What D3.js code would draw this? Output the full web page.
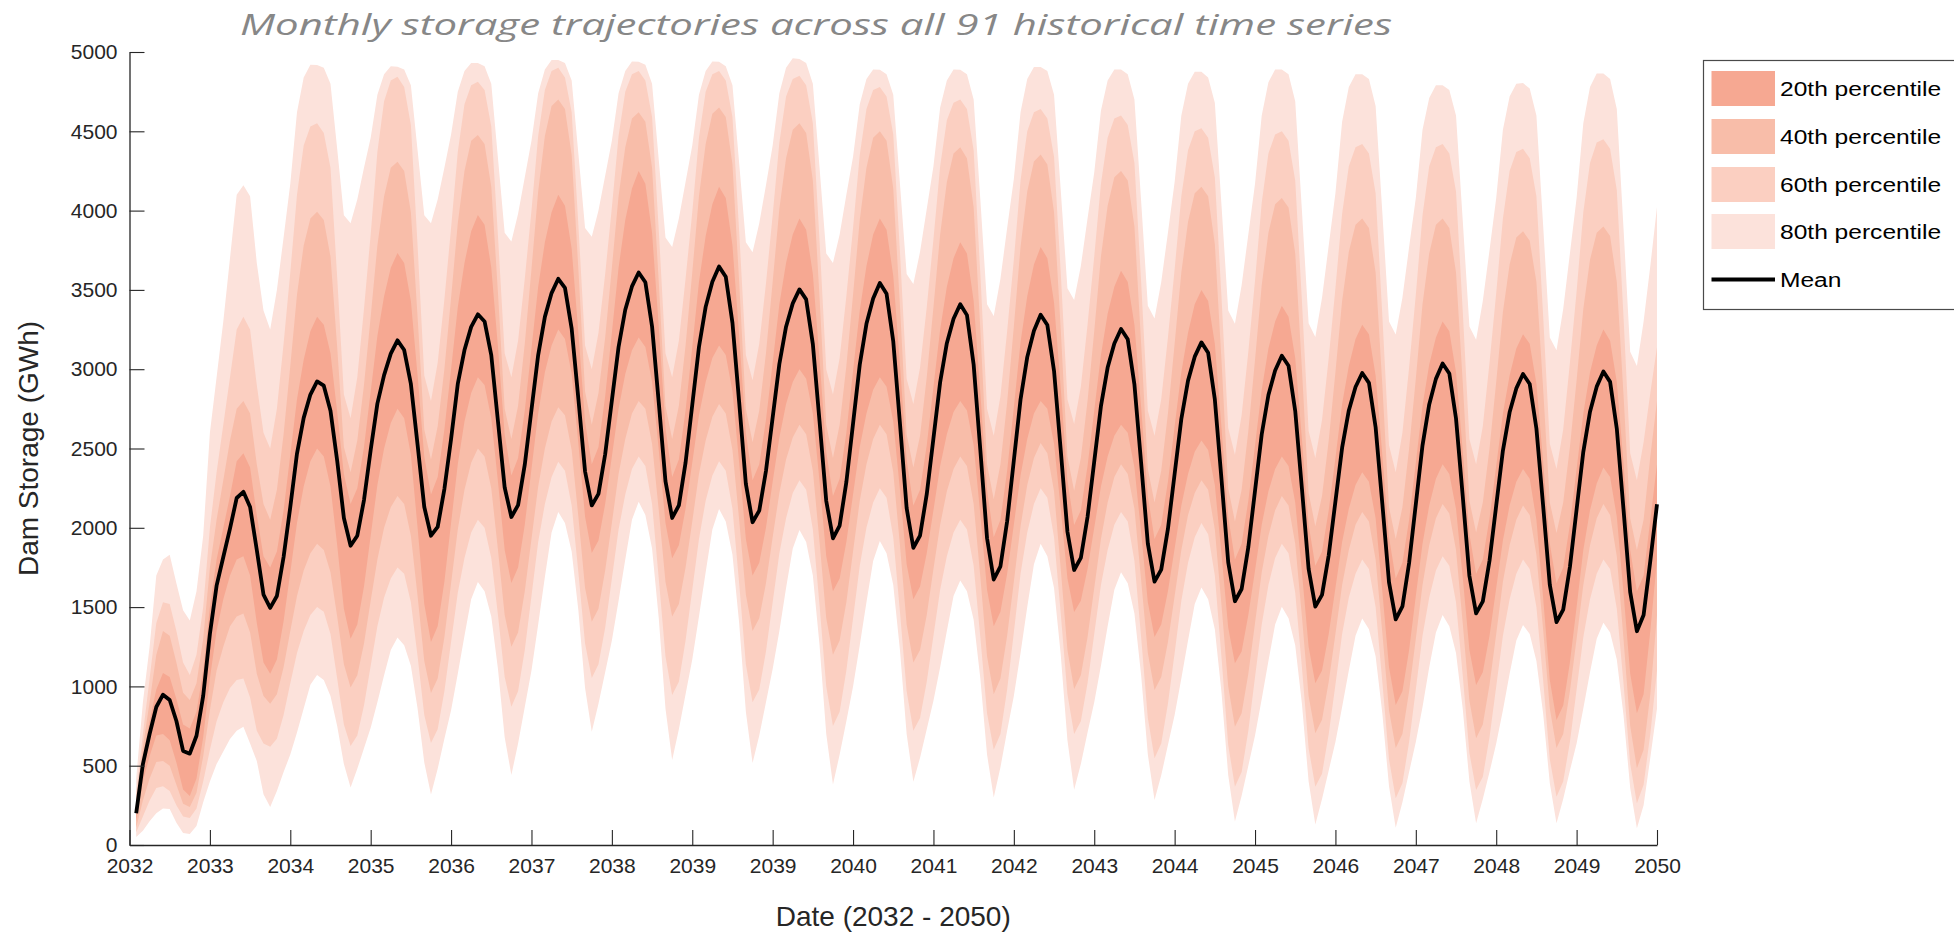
<!DOCTYPE html>
<html>
<head>
<meta charset="utf-8">
<script src="https://cdn.jsdelivr.net/npm/d3@7/dist/d3.min.js"></script>
<style>
  html, body { margin: 0; padding: 0; background: #ffffff; }
  svg { display: block; }
</style>
</head>
<body>
<svg id="chart" width="1954" height="933"></svg>
<script>
// ---- Data: monthly dam storage (GWh), month 1 .. 228 ----
const months = d3.range(1, 229);

const meanStorage = [
  200, 510, 700, 870, 948, 914, 782, 593, 576, 689, 940, 1330, 1635, 1816, 1995, 2188, 2227, 2131, 1860, 1579, 1495,
  1570, 1816, 2131, 2468, 2693, 2840, 2923, 2896, 2738, 2423, 2062, 1887,
  1950, 2175, 2490, 2783, 2963, 3098, 3182, 3121, 2907, 2524, 2131, 1950,
  2006, 2244, 2560, 2907, 3121, 3267, 3346, 3301, 3089, 2671, 2254, 2068,
  2143, 2398, 2744, 3089, 3330, 3480, 3570, 3513, 3256, 2813, 2355, 2141,
  2214, 2464, 2802, 3140, 3375, 3522, 3610, 3548, 3269, 2790, 2294, 2062,
  2141, 2411, 2775, 3140, 3393, 3552, 3647, 3583, 3292, 2793, 2277, 2035,
  2108, 2358, 2696, 3033, 3268, 3415, 3503, 3440, 3158, 2671, 2169, 1934,
  2014, 2288, 2658, 3028, 3286, 3446, 3543, 3476, 3176, 2658, 2124, 1874,
  1951, 2212, 2565, 2918, 3164, 3318, 3410, 3341, 3028, 2490, 1934, 1674,
  1757, 2041, 2425, 2809, 3076, 3243, 3343, 3279, 2989, 2490, 1975, 1734,
  1810, 2068, 2418, 2767, 3010, 3162, 3253, 3189, 2903, 2409, 1900, 1661,
  1736, 1993, 2340, 2686, 2928, 3079, 3169, 3104, 2810, 2304, 1782, 1537,
  1614, 1878, 2234, 2590, 2837, 2992, 3085, 3022, 2737, 2247, 1740, 1503,
  1577, 1827, 2166, 2505, 2740, 2888, 2976, 2914, 2634, 2153, 1656, 1423,
  1504, 1778, 2149, 2520, 2778, 2939, 3036, 2973, 2689, 2201, 1696, 1460,
  1536, 1792, 2140, 2487, 2728, 2879, 2970, 2907, 2626, 2141, 1640, 1405,
  1484, 1753, 2116, 2479, 2732, 2890, 2985, 2920, 2625, 2117, 1594, 1348,
  1450, 1790, 2148
];

// Band edges (upper / lower) for each percentile band
const band80Upper = [
  420, 900, 1250, 1700, 1800, 1830, 1650, 1480, 1415, 1600, 1950, 2600, 2950, 3300, 3700, 4100, 4160, 4090, 3670, 3370, 3250,
  3500, 3830, 4170, 4620, 4840, 4920, 4918, 4900, 4800, 4390, 3970, 3920,
  4070, 4270, 4460, 4730, 4860, 4910, 4907, 4890, 4790, 4380, 3970, 3920,
  4070, 4270, 4480, 4750, 4880, 4930, 4930, 4910, 4800, 4330, 3860, 3805,
  3980, 4210, 4440, 4740, 4890, 4950, 4950, 4930, 4820, 4360, 3890, 3835,
  4000, 4220, 4440, 4740, 4880, 4940, 4938, 4920, 4800, 4320, 3830, 3770,
  3950, 4180, 4410, 4730, 4880, 4940, 4938, 4910, 4790, 4300, 3800, 3737,
  3920, 4160, 4410, 4740, 4900, 4960, 4956, 4930, 4800, 4270, 3730, 3670,
  3850, 4100, 4340, 4670, 4830, 4890, 4888, 4860, 4730, 4170, 3600, 3537,
  3740, 4010, 4280, 4650, 4820, 4890, 4888, 4860, 4700, 4070, 3410, 3336,
  3570, 3890, 4200, 4620, 4830, 4905, 4905, 4880, 4730, 4130, 3510, 3436,
  3650, 3950, 4240, 4630, 4820, 4890, 4890, 4860, 4700, 4060, 3400, 3320,
  3550, 3860, 4180, 4600, 4800, 4875, 4875, 4840, 4680, 4030, 3370, 3286,
  3530, 3850, 4170, 4600, 4810, 4890, 4890, 4860, 4690, 4000, 3290, 3203,
  3450, 3780, 4110, 4560, 4780, 4860, 4860, 4830, 4660, 3990, 3300, 3219,
  3450, 3770, 4080, 4510, 4710, 4790, 4790, 4760, 4600, 3940, 3270, 3186,
  3430, 3750, 4080, 4510, 4720, 4800, 4804, 4770, 4600, 3910, 3200, 3119,
  3380, 3730, 4080, 4550, 4780, 4865, 4865, 4830, 4640, 3890, 3110, 3020,
  3300, 3650, 4022
];
const band80Lower = [
  50, 90, 150, 200, 230, 227, 140, 75, 70, 120, 270, 400, 510, 590, 668, 720, 745, 640, 530, 320, 240,
  340, 460, 570, 710, 860, 1010, 1072, 1040, 940, 750, 510, 363,
  480, 610, 740, 900, 1070, 1230, 1308, 1260, 1130, 860, 520, 318,
  480, 670, 850, 1080, 1320, 1550, 1658, 1600, 1440, 1110, 680, 441,
  640, 870, 1100, 1390, 1690, 1970, 2100, 2030, 1850, 1480, 990, 714,
  890, 1090, 1290, 1540, 1800, 2050, 2165, 2080, 1870, 1430, 860, 536,
  730, 950, 1170, 1440, 1720, 1990, 2118, 2040, 1830, 1400, 840, 517,
  690, 900, 1110, 1350, 1620, 1870, 1986, 1910, 1700, 1260, 700, 382,
  570, 780, 1000, 1260, 1530, 1790, 1917, 1840, 1640, 1230, 700, 399,
  550, 730, 910, 1120, 1350, 1570, 1667, 1600, 1420, 1050, 570, 299,
  490, 720, 940, 1210, 1500, 1770, 1900, 1820, 1620, 1200, 660, 349,
  510, 710, 900, 1130, 1380, 1610, 1720, 1650, 1460, 1070, 570, 283,
  440, 630, 820, 1050, 1290, 1520, 1623, 1550, 1360, 960, 440, 148,
  310, 500, 690, 920, 1160, 1390, 1502, 1430, 1260, 890, 400, 130,
  290, 470, 650, 870, 1100, 1320, 1428, 1360, 1190, 830, 370, 109,
  270, 460, 650, 870, 1120, 1340, 1450, 1380, 1210, 860, 400, 137,
  290, 460, 640, 850, 1080, 1290, 1387, 1330, 1160, 830, 390, 137,
  290, 470, 640, 860, 1090, 1300, 1402, 1340, 1170, 820, 360, 105,
  250, 550, 860
];
const band60Upper = [
  330, 700, 1050, 1400, 1530, 1520, 1350, 1150, 1072, 1200, 1500, 2000, 2350, 2650, 2950, 3250, 3330, 3250, 2900, 2600, 2500,
  2750, 3160, 3610, 4100, 4410, 4530, 4550, 4490, 4270, 3580, 2840, 2690,
  2950, 3380, 3850, 4370, 4690, 4820, 4844, 4780, 4540, 3780, 2960, 2800,
  3040, 3440, 3890, 4370, 4670, 4790, 4812, 4760, 4530, 3840, 3100, 2950,
  3180, 3570, 4000, 4470, 4760, 4880, 4900, 4840, 4620, 3910, 3150, 3000,
  3230, 3600, 4020, 4470, 4750, 4860, 4880, 4820, 4590, 3880, 3100, 2950,
  3180, 3570, 3990, 4460, 4750, 4860, 4880, 4820, 4590, 3870, 3090, 2930,
  3160, 3540, 3970, 4430, 4720, 4830, 4850, 4790, 4550, 3810, 3000, 2840,
  3070, 3460, 3890, 4350, 4640, 4760, 4780, 4720, 4480, 3740, 2940, 2780,
  3010, 3390, 3820, 4280, 4570, 4680, 4700, 4640, 4380, 3600, 2750, 2580,
  2830, 3240, 3690, 4190, 4500, 4620, 4640, 4580, 4340, 3610, 2810, 2654,
  2890, 3280, 3710, 4170, 4460, 4580, 4600, 4540, 4300, 3550, 2740, 2580,
  2810, 3200, 3630, 4090, 4380, 4500, 4520, 4460, 4210, 3450, 2630, 2460,
  2710, 3110, 3560, 4050, 4360, 4480, 4500, 4440, 4190, 3430, 2610, 2440,
  2680, 3070, 3510, 3980, 4280, 4400, 4420, 4360, 4110, 3340, 2520, 2350,
  2600, 3010, 3470, 3970, 4280, 4400, 4420, 4360, 4120, 3370, 2560, 2400,
  2640, 3040, 3480, 3950, 4250, 4370, 4390, 4330, 4090, 3340, 2530, 2371,
  2620, 3040, 3490, 3990, 4300, 4430, 4450, 4390, 4130, 3330, 2470, 2300,
  2540, 2850, 3140
];
const band60Lower = [
  80, 180, 280, 360, 370, 340, 250, 180, 170, 230, 400, 600, 780, 900, 990, 1040, 1050, 930, 720, 640, 620,
  670, 820, 1020, 1210, 1350, 1450, 1500, 1470, 1330, 1050, 760, 624,
  690, 880, 1130, 1380, 1560, 1680, 1750, 1710, 1530, 1190, 820, 643,
  730, 970, 1280, 1590, 1810, 1970, 2050, 2000, 1810, 1450, 1060, 872,
  970, 1230, 1570, 1910, 2150, 2320, 2417, 2360, 2140, 1720, 1270, 1053,
  1140, 1370, 1680, 1990, 2210, 2370, 2450, 2390, 2150, 1680, 1190, 946,
  1030, 1290, 1610, 1930, 2170, 2330, 2420, 2360, 2120, 1650, 1140, 900,
  980, 1220, 1530, 1840, 2060, 2220, 2300, 2240, 1990, 1510, 1000, 750,
  840, 1100, 1430, 1760, 2000, 2160, 2250, 2190, 1940, 1470, 970, 720,
  800, 1030, 1320, 1610, 1820, 1970, 2050, 1990, 1760, 1310, 830, 600,
  700, 980, 1340, 1710, 1970, 2150, 2250, 2190, 1940, 1460, 950, 700,
  780, 1020, 1330, 1640, 1860, 2020, 2100, 2040, 1790, 1310, 800, 547,
  640, 890, 1210, 1540, 1780, 1940, 2030, 1960, 1700, 1180, 630, 368,
  460, 720, 1060, 1390, 1640, 1810, 1900, 1840, 1590, 1120, 610, 368,
  450, 700, 1010, 1330, 1560, 1710, 1800, 1740, 1500, 1030, 540, 294,
  390, 650, 980, 1320, 1560, 1730, 1820, 1760, 1530, 1070, 580, 347,
  430, 680, 1000, 1320, 1550, 1710, 1800, 1740, 1500, 1040, 540, 305,
  400, 650, 980, 1310, 1550, 1710, 1800, 1740, 1490, 1020, 510, 263,
  380, 700, 1100
];
const band40Upper = [
  290, 620, 900, 1200, 1350, 1320, 1150, 960, 914, 1020, 1300, 1750, 2050, 2300, 2550, 2750, 2800, 2720, 2400, 2150, 2050,
  2240, 2590, 3020, 3470, 3780, 3950, 3993, 3940, 3710, 3140, 2510, 2350,
  2550, 2900, 3330, 3780, 4090, 4270, 4308, 4250, 3990, 3330, 2620, 2430,
  2640, 3000, 3450, 3920, 4250, 4440, 4477, 4420, 4150, 3480, 2750, 2560,
  2770, 3160, 3630, 4120, 4470, 4660, 4700, 4640, 4350, 3630, 2860, 2650,
  2850, 3200, 3640, 4090, 4400, 4580, 4620, 4560, 4270, 3550, 2770, 2560,
  2770, 3150, 3610, 4090, 4420, 4610, 4650, 4590, 4290, 3550, 2750, 2540,
  2740, 3100, 3550, 4010, 4330, 4510, 4550, 4490, 4190, 3450, 2650, 2440,
  2650, 3020, 3470, 3940, 4270, 4460, 4500, 4440, 4140, 3400, 2590, 2380,
  2580, 2950, 3390, 3850, 4180, 4360, 4400, 4330, 4020, 3250, 2400, 2180,
  2400, 2790, 3270, 3770, 4120, 4310, 4354, 4290, 3990, 3250, 2450, 2234,
  2440, 2800, 3240, 3710, 4030, 4210, 4250, 4190, 3900, 3160, 2370, 2160,
  2360, 2720, 3160, 3610, 3930, 4110, 4150, 4090, 3790, 3050, 2250, 2040,
  2240, 2610, 3060, 3530, 3860, 4040, 4080, 4020, 3730, 3000, 2220, 2010,
  2200, 2550, 2980, 3430, 3740, 3910, 3950, 3890, 3610, 2900, 2130, 1930,
  2130, 2500, 2940, 3410, 3730, 3910, 3950, 3890, 3610, 2920, 2170, 1970,
  2160, 2500, 2920, 3360, 3660, 3830, 3870, 3810, 3550, 2880, 2160, 1967,
  2160, 2510, 2930, 3380, 3690, 3860, 3900, 3840, 3550, 2840, 2060, 1860,
  2050, 2450, 2800
];
const band40Lower = [
  110, 280, 420, 523, 530, 500, 380, 260, 240, 330, 560, 850, 1100, 1250, 1380, 1440, 1460, 1340, 1080, 940, 890,
  950, 1120, 1350, 1570, 1730, 1840, 1900, 1860, 1720, 1440, 1140, 993,
  1070, 1270, 1540, 1800, 2000, 2130, 2200, 2150, 1950, 1570, 1160, 958,
  1050, 1310, 1650, 1990, 2240, 2410, 2500, 2450, 2250, 1860, 1450, 1250,
  1340, 1600, 1930, 2260, 2500, 2670, 2760, 2710, 2490, 2070, 1620, 1408,
  1490, 1730, 2030, 2340, 2560, 2720, 2800, 2750, 2530, 2110, 1660, 1440,
  1520, 1750, 2040, 2340, 2550, 2700, 2780, 2720, 2490, 2050, 1580, 1350,
  1430, 1650, 1940, 2220, 2430, 2570, 2650, 2590, 2360, 1910, 1430, 1200,
  1290, 1530, 1850, 2170, 2400, 2560, 2650, 2590, 2350, 1890, 1390, 1150,
  1230, 1450, 1740, 2020, 2230, 2370, 2450, 2390, 2150, 1690, 1190, 950,
  1050, 1320, 1660, 2010, 2270, 2440, 2535, 2470, 2230, 1740, 1230, 983,
  1070, 1310, 1620, 1930, 2160, 2320, 2400, 2340, 2120, 1670, 1210, 977,
  1060, 1280, 1570, 1860, 2080, 2220, 2300, 2240, 1990, 1510, 1000, 746,
  830, 1080, 1400, 1720, 1950, 2110, 2200, 2140, 1900, 1440, 940, 705,
  790, 1030, 1330, 1640, 1860, 2020, 2100, 2040, 1800, 1340, 850, 611,
  700, 970, 1300, 1640, 1890, 2060, 2150, 2090, 1860, 1400, 910, 673,
  760, 1010, 1330, 1660, 1890, 2050, 2140, 2080, 1830, 1360, 860, 611,
  700, 970, 1300, 1640, 1890, 2060, 2150, 2080, 1820, 1300, 750, 484,
  600, 950, 1450
];
const band20Upper = [
  250, 560, 780, 980, 1084, 1060, 920, 760, 734, 840, 1100, 1500, 1800, 2000, 2200, 2420, 2470, 2380, 2080, 1820, 1750,
  1850, 2110, 2460, 2810, 3060, 3240, 3331, 3280, 3100, 2730, 2340, 2150,
  2250, 2510, 2860, 3210, 3460, 3640, 3732, 3670, 3430, 2960, 2450, 2210,
  2320, 2620, 3000, 3390, 3670, 3870, 3972, 3910, 3640, 3140, 2590, 2330,
  2440, 2740, 3130, 3520, 3800, 3990, 4100, 4030, 3760, 3230, 2670, 2400,
  2510, 2830, 3230, 3640, 3940, 4140, 4250, 4170, 3860, 3270, 2630, 2320,
  2430, 2740, 3140, 3550, 3840, 4040, 4150, 4080, 3780, 3210, 2600, 2300,
  2400, 2680, 3040, 3410, 3670, 3850, 3950, 3880, 3600, 3060, 2480, 2200,
  2310, 2600, 2990, 3370, 3650, 3850, 3950, 3880, 3590, 3030, 2430, 2140,
  2240, 2520, 2890, 3250, 3520, 3700, 3800, 3730, 3430, 2850, 2240, 1940,
  2050, 2360, 2760, 3170, 3460, 3660, 3770, 3700, 3420, 2880, 2300, 2017,
  2110, 2390, 2740, 3090, 3350, 3520, 3620, 3550, 3280, 2760, 2200, 1930,
  2020, 2290, 2640, 2980, 3230, 3410, 3500, 3430, 3160, 2630, 2070, 1800,
  1900, 2170, 2520, 2870, 3130, 3300, 3400, 3330, 3070, 2560, 2020, 1760,
  1850, 2110, 2440, 2780, 3020, 3190, 3280, 3220, 2960, 2460, 1940, 1680,
  1780, 2050, 2410, 2770, 3030, 3200, 3300, 3240, 2980, 2490, 1960, 1710,
  1800, 2060, 2390, 2720, 2960, 3130, 3220, 3160, 2910, 2420, 1900, 1650,
  1750, 2020, 2370, 2720, 2980, 3150, 3250, 3180, 2920, 2410, 1860, 1600,
  1700, 2050, 2400
];
const band20Lower = [
  150, 400, 560, 690, 700, 660, 520, 350, 309, 420, 680, 1050, 1350, 1550, 1700, 1800, 1820, 1700, 1400, 1150, 1080,
  1170, 1410, 1720, 2030, 2260, 2420, 2500, 2450, 2260, 1890, 1490, 1300,
  1390, 1630, 1950, 2270, 2500, 2660, 2750, 2690, 2460, 2000, 1520, 1280,
  1380, 1660, 2030, 2400, 2670, 2850, 2950, 2900, 2690, 2290, 1860, 1652,
  1750, 2020, 2370, 2720, 2980, 3150, 3250, 3190, 2970, 2530, 2070, 1841,
  1920, 2150, 2450, 2750, 2970, 3120, 3200, 3140, 2920, 2490, 2030, 1808,
  1890, 2120, 2410, 2710, 2920, 3070, 3150, 3090, 2860, 2410, 1930, 1700,
  1780, 2000, 2290, 2570, 2780, 2920, 3000, 2940, 2720, 2290, 1820, 1600,
  1680, 1910, 2210, 2510, 2720, 2870, 2950, 2890, 2670, 2240, 1770, 1550,
  1630, 1840, 2110, 2390, 2590, 2730, 2800, 2740, 2520, 2080, 1610, 1380,
  1470, 1710, 2020, 2330, 2560, 2720, 2800, 2750, 2530, 2120, 1680, 1469,
  1540, 1740, 2000, 2260, 2450, 2580, 2650, 2600, 2380, 1970, 1530, 1312,
  1390, 1600, 1870, 2140, 2340, 2480, 2550, 2490, 2270, 1830, 1370, 1146,
  1220, 1450, 1730, 2020, 2230, 2370, 2450, 2390, 2160, 1720, 1250, 1020,
  1100, 1330, 1620, 1910, 2120, 2270, 2350, 2290, 2060, 1600, 1120, 883,
  970, 1230, 1570, 1900, 2140, 2310, 2400, 2340, 2120, 1690, 1230, 1009,
  1090, 1320, 1620, 1920, 2140, 2290, 2370, 2310, 2050, 1560, 1040, 788,
  880, 1150, 1500, 1860, 2110, 2280, 2380, 2320, 2070, 1590, 1080, 830,
  950, 1350, 1800
];

// Axis ticks
const xTickMonths = [0, 12, 24, 36, 48, 60, 72, 84, 96, 108, 120, 132, 144, 156, 168, 180, 192, 204, 216, 228];
const xTickLabels = ["2032", "2033", "2034", "2035", "2036", "2037", "2038", "2039", "2039", "2040",
                     "2041", "2042", "2043", "2044", "2045", "2046", "2047", "2048", "2049", "2050"];
const yTicks = [0, 500, 1000, 1500, 2000, 2500, 3000, 3500, 4000, 4500, 5000];

// Legend entries (outermost band drawn first)
const bandNames = ["20th percentile", "40th percentile", "60th percentile", "80th percentile"];
const bandColors = ["#F6A892", "#F8BDA9", "#FBCFC1", "#FCE2DB"];
const bandEdges = [
  [band20Lower, band20Upper],
  [band40Lower, band40Upper],
  [band60Lower, band60Upper],
  [band80Lower, band80Upper]
];

// ---- Layout ----
const svg = d3.select("#chart");
const plot = { left: 129.5, right: 1657, top: 52, bottom: 845 };
const axisColor = "#262626";
const tickFont = "'Liberation Sans', Arial, Helvetica, sans-serif";

const x = d3.scaleLinear().domain([0, 228]).range([plot.left, plot.right]);
const y = d3.scaleLinear().domain([0, 5000]).range([plot.bottom, plot.top]);

// ---- Percentile bands ----
const bandLayer = svg.append("g").attr("class", "bands");
for (let b = bandEdges.length - 1; b >= 0; b--) {
  const [lower, upper] = bandEdges[b];
  const area = d3.area()
    .x((d, i) => x(months[i]))
    .y0((d, i) => y(lower[i]))
    .y1((d, i) => y(upper[i]));
  bandLayer.append("path")
    .datum(months)
    .attr("d", area)
    .attr("fill", bandColors[b])
    .attr("stroke", "none");
}

// ---- Mean trajectory ----
const meanLine = d3.line()
  .x((d, i) => x(months[i]))
  .y((d, i) => y(meanStorage[i]));
svg.append("path")
  .datum(months)
  .attr("d", meanLine)
  .attr("fill", "none")
  .attr("stroke", "#000000")
  .attr("stroke-width", 3.8)
  .attr("stroke-linejoin", "round")
  .attr("stroke-linecap", "butt");

// ---- Axes ----
const xAxis = d3.axisBottom(x)
  .tickValues(xTickMonths)
  .tickFormat((d, i) => xTickLabels[i])
  .tickSizeInner(-15)
  .tickSizeOuter(0)
  .tickPadding(13);
const yAxis = d3.axisLeft(y)
  .tickValues(yTicks)
  .tickFormat(d3.format("d"))
  .tickSizeInner(-15)
  .tickSizeOuter(0)
  .tickPadding(12);

const gx = svg.append("g")
  .attr("transform", `translate(0,${plot.bottom})`)
  .call(xAxis);
const gy = svg.append("g")
  .attr("transform", `translate(${plot.left},0)`)
  .call(yAxis);

[gx, gy].forEach(g => {
  g.select(".domain").attr("stroke", axisColor).attr("stroke-width", 1.3);
  g.selectAll(".tick line").attr("stroke", axisColor).attr("stroke-width", 1.1);
  g.selectAll(".tick text")
    .attr("fill", axisColor)
    .style("font-family", tickFont)
    .style("font-size", "21px");
});

// Axis titles
svg.append("text")
  .attr("x", (plot.left + plot.right) / 2)
  .attr("y", 926)
  .attr("text-anchor", "middle")
  .attr("fill", axisColor)
  .style("font-family", tickFont)
  .style("font-size", "28px")
  .text("Date (2032 - 2050)");

svg.append("text")
  .attr("transform", `translate(38,${(plot.top + plot.bottom) / 2}) rotate(-90)`)
  .attr("text-anchor", "middle")
  .attr("fill", axisColor)
  .style("font-family", tickFont)
  .style("font-size", "28px")
  .text("Dam Storage (GWh)");

// Chart title
svg.append("text")
  .attr("x", 240)
  .attr("y", 35)
  .attr("fill", "#878787")
  .attr("textLength", 1152)
  .attr("lengthAdjust", "spacingAndGlyphs")
  .style("font-family", "'Open Sans', 'DejaVu Sans', sans-serif")
  .style("font-style", "italic")
  .style("font-weight", 400)
  .style("font-size", "30px")
  .text("Monthly storage trajectories across all 91 historical time series");

// ---- Legend ----
const legend = svg.append("g").attr("class", "legend");
legend.append("rect")
  .attr("x", 1703.5)
  .attr("y", 60.5)
  .attr("width", 300)
  .attr("height", 249)
  .attr("fill", "#ffffff")
  .attr("stroke", "#4a4a4a")
  .attr("stroke-width", 1.2);

const rowY = [88.5, 136.5, 184.5, 231.5];
bandNames.forEach((name, i) => {
  legend.append("rect")
    .attr("x", 1711.5)
    .attr("y", rowY[i] - 17.5)
    .attr("width", 63.5)
    .attr("height", 35)
    .attr("fill", bandColors[i]);
  legend.append("text")
    .attr("transform", `translate(1780,${rowY[i]}) scale(1.17,1)`)
    .attr("dy", "0.35em")
    .attr("fill", "#000000")
    .style("font-family", tickFont)
    .style("font-size", "21px")
    .text(name);
});
legend.append("line")
  .attr("x1", 1711.5).attr("x2", 1775)
  .attr("y1", 279.5).attr("y2", 279.5)
  .attr("stroke", "#000000")
  .attr("stroke-width", 3.8);
legend.append("text")
  .attr("transform", "translate(1780,279.5) scale(1.17,1)")
  .attr("dy", "0.35em")
  .attr("fill", "#000000")
  .style("font-family", tickFont)
  .style("font-size", "21px")
  .text("Mean");
</script>
</body>
</html>
